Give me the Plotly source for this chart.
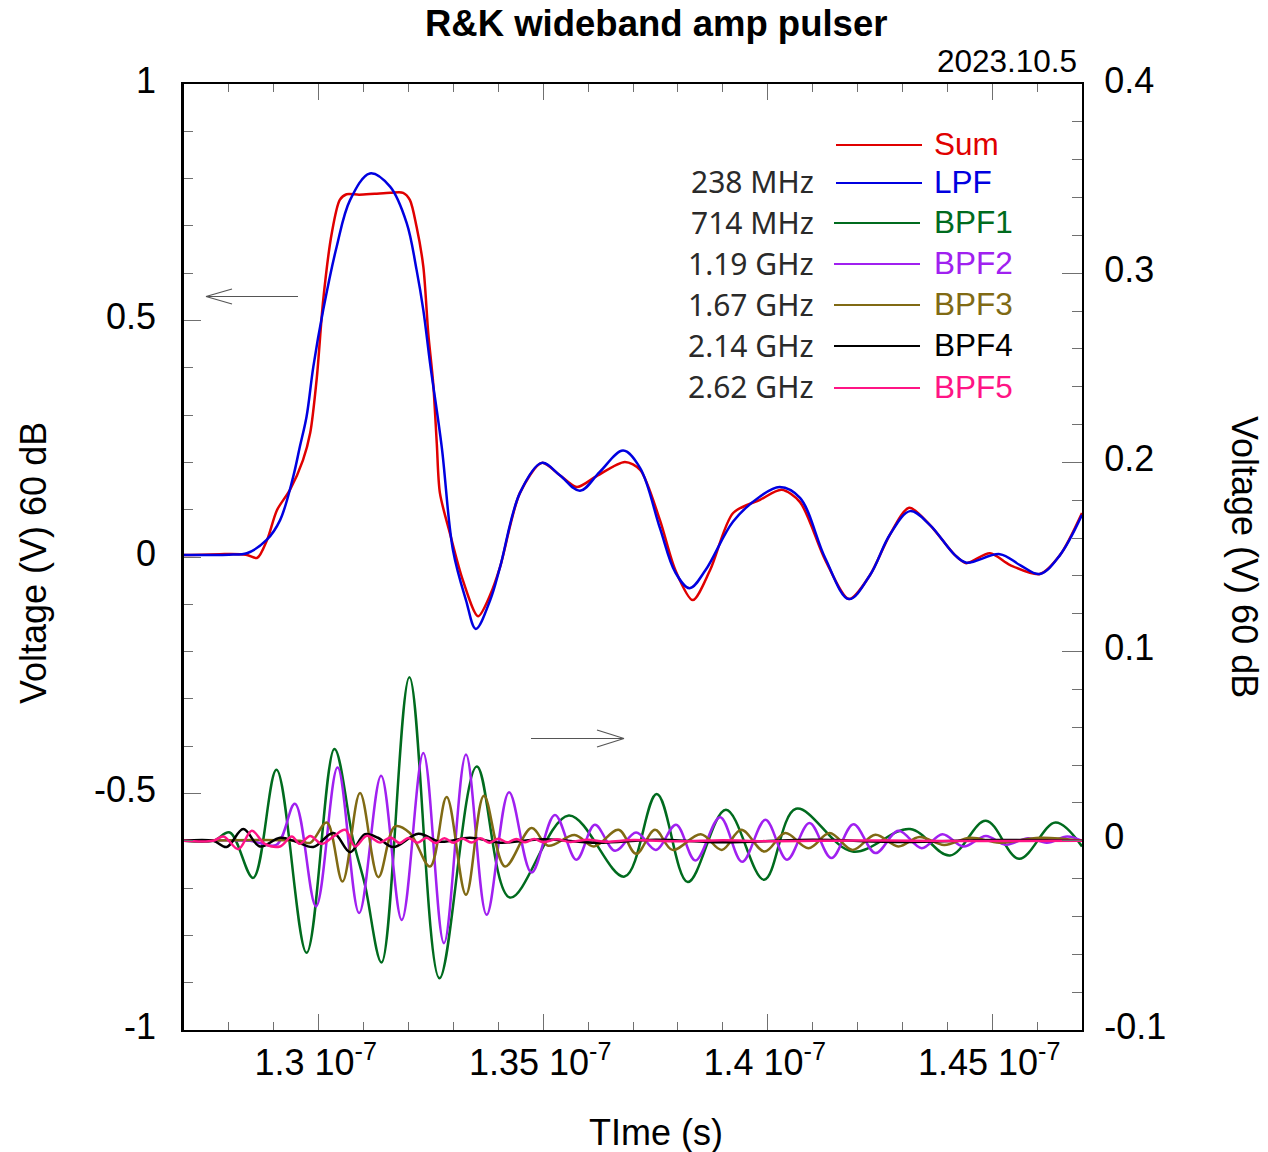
import plotly.graph_objects as go

# ---------------- data (time in ns, converted to seconds for the axis) -------------
sum_t = [127.0, 127.8, 128.38, 128.63, 128.85, 129.07, 129.36, 129.65, 129.81, 129.96,
         130.10, 130.29, 130.47, 130.62, 130.90, 131.25, 131.60, 131.88, 132.03, 132.18,
         132.33, 132.44, 132.55, 132.63, 132.70, 132.92, 133.21, 133.55, 133.82, 134.04,
         134.48, 134.97, 135.37, 135.75, 136.19, 136.82, 137.16, 137.60, 137.94, 138.33,
         138.72, 139.23, 139.83, 140.31, 140.72, 141.28, 141.81, 142.28, 142.72, 143.15,
         143.61, 144.17, 144.42, 144.95, 145.40, 146.06, 146.51, 147.0]
sum_v = [0.004, 0.006, 0.005, -0.002, 0.036, 0.099, 0.142, 0.205, 0.262, 0.381,
         0.543, 0.684, 0.755, 0.767, 0.766, 0.768, 0.770, 0.770, 0.755, 0.698,
         0.614, 0.473, 0.367, 0.240, 0.135, 0.051, -0.049, -0.125, -0.080, -0.021,
         0.135, 0.199, 0.173, 0.148, 0.171, 0.201, 0.184, 0.078, -0.027, -0.091,
         -0.027, 0.093, 0.121, 0.142, 0.116, -0.006, -0.089, -0.038, 0.047, 0.104,
         0.068, 0.004, -0.013, 0.008, -0.017, -0.036, 0.004, 0.093]

lpf_t = [127.0, 128.0, 128.40, 128.84, 129.14, 129.43, 129.58, 129.73, 129.88, 130.10,
         130.40, 130.70, 131.14, 131.59, 131.96, 132.18, 132.33, 132.48, 132.74, 132.99,
         133.28, 133.50, 133.82, 134.04, 134.48, 134.97, 135.37, 135.82, 136.26, 136.78,
         137.16, 137.60, 137.94, 138.26, 138.62, 139.23, 139.83, 140.27, 140.72, 141.28,
         141.81, 142.28, 142.72, 143.17, 143.61, 144.17, 144.43, 145.17, 145.62, 146.06,
         146.51, 147.0]
lpf_v = [0.004, 0.005, 0.008, 0.036, 0.078, 0.169, 0.233, 0.297, 0.402, 0.522,
         0.656, 0.755, 0.811, 0.783, 0.706, 0.607, 0.522, 0.410, 0.233, 0.015,
         -0.091, -0.152, -0.091, -0.021, 0.135, 0.199, 0.173, 0.140, 0.180, 0.225,
         0.188, 0.061, -0.032, -0.066, -0.027, 0.075, 0.128, 0.148, 0.125, -0.002,
         -0.089, -0.038, 0.047, 0.097, 0.068, 0.004, -0.012, 0.006, -0.017, -0.036,
         0.004, 0.089]

bpf1_t = [127.0, 127.65, 128.02, 128.54, 129.06, 129.73, 130.35, 130.77, 131.03, 131.40,
          132.02, 132.69, 133.52, 134.26, 135.57, 136.81, 137.53, 138.22, 139.07, 139.92,
          140.63, 141.89, 143.17, 144.06, 144.86, 145.60, 146.41, 147.0]
bpf1_v = [0.0, 0.0, 0.0044, -0.0196, 0.0375, -0.0592, 0.0485, 0.0, -0.0233, -0.0643,
          0.0865, -0.0726, 0.0393, -0.0300, 0.0134, -0.0189, 0.0247, -0.0218, 0.0164, -0.0206,
          0.0169, -0.0057, 0.0062, -0.0078, 0.0106, -0.0095, 0.0097, -0.003]

bpf2_t = [127.0, 128.47, 129.06, 129.47, 129.94, 130.42, 130.90, 131.39, 131.85, 132.33,
          132.79, 133.28, 133.74, 134.24, 134.74, 135.26, 135.74, 136.15, 136.60, 137.07,
          137.51, 137.96, 138.39, 138.94, 139.43, 139.95, 140.43, 140.93, 141.42, 141.91,
          142.40, 142.91, 143.43, 143.89, 144.36, 144.86, 145.30, 145.80, 146.22, 146.67,
          147.0]
bpf2_v = [0.0, 0.0, -0.0021, 0.0196, -0.0347, 0.0387, -0.0382, 0.0344, -0.0418, 0.0464,
          -0.0541, 0.0456, -0.0391, 0.0257, -0.0168, 0.0137, -0.0100, 0.0085, -0.0053, 0.0044,
          -0.0048, 0.0085, -0.0104, 0.0125, -0.0111, 0.0111, -0.0100, 0.0094, -0.0091, 0.0088,
          -0.0065, 0.0053, -0.0039, 0.0035, -0.0030, 0.0026, -0.0021, 0.0014, -0.0010, 0.0023,
          0.0]

bpf3_t = [127.0, 129.58, 129.81, 130.18, 130.53, 130.92, 131.33, 131.70, 132.03, 132.48,
          132.85, 133.28, 133.68, 134.15, 134.74, 135.11, 135.70, 136.13, 136.68, 137.07,
          137.49, 137.88, 138.51, 138.98, 139.41, 139.93, 140.39, 140.91, 141.38, 141.89,
          142.40, 142.91, 143.38, 143.93, 144.51, 145.17, 146.06, 147.0]
bpf3_v = [0.0, 0.0, -0.0011, 0.0097, -0.0215, 0.0252, -0.0192, 0.0076, 0.0041, -0.0136,
          0.0231, -0.0285, 0.0238, -0.0136, 0.0067, -0.0026, 0.0031, -0.0030, 0.0058, -0.0069,
          0.0058, -0.0048, 0.0035, -0.0048, 0.0058, -0.0057, 0.0041, -0.0039, 0.0041, -0.0048,
          0.0032, -0.0030, 0.0020, -0.0022, 0.0016, -0.0010, 0.0016, 0.0]

bpf4_t = [127.0, 127.65, 127.95, 128.32, 128.69, 129.14, 129.50, 129.88, 130.33, 130.70,
          131.03, 131.32, 131.66, 132.22, 132.70, 133.37, 134.04, 135.0, 136.2, 137.5,
          139.0, 141.0, 143.0, 145.0, 147.0]
bpf4_v = [0.0, 0.0, -0.0033, 0.0062, -0.0030, 0.0016, -0.0005, -0.0033, 0.0041, -0.0060,
          0.0035, 0.0016, -0.0033, 0.0037, -0.0005, 0.0016, -0.0010, 0.0008, -0.0010, 0.0006,
          -0.0008, 0.0005, -0.0006, 0.0004, 0.0]

bpf5_t = [127.0, 127.65, 127.88, 128.21, 128.51, 128.80, 129.14, 129.40, 129.58, 129.81,
          130.07, 130.33, 130.59, 130.81, 131.07, 131.37, 131.60, 131.80, 132.00, 132.20,
          132.40, 132.60, 132.80, 133.00, 133.20, 133.40, 133.60, 133.80, 134.00, 134.20,
          134.40, 134.60, 134.80, 135.00, 135.30, 135.60, 136.00, 136.40, 137.00, 138.00,
          139.00, 140.00, 142.00, 144.00, 147.00]
bpf5_v = [0.0, 0.0, 0.0023, -0.0044, 0.0053, -0.0016, -0.0030, 0.0023, -0.0016, 0.0026,
          -0.0016, 0.0023, 0.0058, -0.0030, 0.0026, -0.0009, 0.0018, -0.0012, 0.0015, -0.0010,
          0.0016, -0.0012, 0.0014, -0.0010, 0.0012, -0.0009, 0.0013, -0.0010, 0.0011, -0.0008,
          0.0010, -0.0008, 0.0009, -0.0007, 0.0008, -0.0006, 0.0006, -0.0005, 0.0004, -0.0003,
          0.0003, -0.0002, 0.0002, -0.0001, 0.0]

names = ["Sum", "LPF", "BPF1", "BPF2", "BPF3", "BPF4", "BPF5"]
freqs = ["", "238 MHz", "714 MHz", "1.19 GHz", "1.67 GHz", "2.14 GHz", "2.62 GHz"]
colors = ["#e00000", "#0000e0", "#006b1e", "#a020f0", "#806a14", "#000000", "#ff1485"]

x_ticks = [1.30e-7, 1.35e-7, 1.40e-7, 1.45e-7]
x_ticktext = ["1.3 10<sup>-7</sup>", "1.35 10<sup>-7</sup>", "1.4 10<sup>-7</sup>", "1.45 10<sup>-7</sup>"]
yl_ticks = [-1, -0.5, 0, 0.5, 1]
yl_ticktext = ["-1", "-0.5", "0", "0.5", "1"]
yr_ticks = [-0.1, 0, 0.1, 0.2, 0.3, 0.4]
yr_ticktext = ["-0.1", "0", "0.1", "0.2", "0.3", "0.4"]

# ---------------- figure -------------
W, H = 1268, 1152
L, R, T, B = 184, 1082, 84, 1030

def px(xp):
    return (xp - L) / (R - L)

def py(yp):
    return (B - yp) / (B - T)

FONT = "Liberation Sans, Arial, Helvetica, sans-serif"
TICKC = "#707070"
TICKFS = 36

fig = go.Figure()

series_right = [(bpf1_t, bpf1_v, 2), (bpf2_t, bpf2_v, 3), (bpf3_t, bpf3_v, 4),
                (bpf4_t, bpf4_v, 5), (bpf5_t, bpf5_v, 6)]
for t, v, i in series_right:
    fig.add_trace(go.Scatter(x=[a * 1e-9 for a in t], y=v, mode="lines", name=names[i],
                             line=dict(color=colors[i], width=2.5, shape="spline", smoothing=1.0),
                             yaxis="y2"))

fig.add_trace(go.Scatter(x=[a * 1e-9 for a in sum_t], y=sum_v, mode="lines", name=names[0],
                         line=dict(color=colors[0], width=2.5, shape="spline", smoothing=0.8),
                         yaxis="y"))
fig.add_trace(go.Scatter(x=[a * 1e-9 for a in lpf_t], y=lpf_v, mode="lines", name=names[1],
                         line=dict(color=colors[1], width=2.5, shape="spline", smoothing=1.0),
                         yaxis="y"))

x_minor = [(127 + k) * 1e-9 for k in range(21) if (127 + k) % 5 != 0]
yl_minor = [round(-1 + 0.1 * k, 2) for k in range(21) if k % 5 != 0]
yr_minor = [round(-0.1 + 0.02 * k, 3) for k in range(26) if k % 5 != 0]

fig.update_layout(
    template="none",
    width=W, height=H,
    margin=dict(l=L, r=W - R, t=T, b=H - B, pad=0),
    paper_bgcolor="white", plot_bgcolor="white",
    showlegend=False,
    font=dict(family=FONT, color="black"),
    xaxis=dict(
        range=[1.27e-7, 1.47e-7], showgrid=False, zeroline=False,
        showline=True, linecolor="black", linewidth=2, mirror="ticks",
        ticks="inside", ticklen=16, tickwidth=1, tickcolor=TICKC,
        tickmode="array", tickvals=x_ticks, ticktext=x_ticktext,
        tickfont=dict(size=TICKFS, family=FONT, color="black"),
        minor=dict(ticks="inside", ticklen=8, tickwidth=1, tickcolor=TICKC,
                   tickmode="array", tickvals=x_minor, showgrid=False),
        automargin=False, ticklabelstandoff=0, ticklabelshift=-3,
    ),
    yaxis=dict(
        range=[-1, 1], showgrid=False, zeroline=False,
        showline=True, linecolor="black", linewidth=2.5,
        ticks="inside", ticklen=17, tickwidth=1, tickcolor=TICKC,
        tickmode="array", tickvals=yl_ticks, ticktext=yl_ticktext,
        tickfont=dict(size=TICKFS, family=FONT, color="black"),
        minor=dict(ticks="inside", ticklen=9, tickwidth=1, tickcolor=TICKC,
                   tickmode="array", tickvals=yl_minor, showgrid=False),
        automargin=False, ticklabelstandoff=18, ticklabelshift=-4,
    ),
    yaxis2=dict(
        range=[-0.1, 0.4], overlaying="y", side="right", anchor="x",
        showgrid=False, zeroline=False,
        showline=True, linecolor="black", linewidth=2,
        ticks="inside", ticklen=20, tickwidth=1, tickcolor=TICKC,
        tickmode="array", tickvals=yr_ticks, ticktext=yr_ticktext,
        tickfont=dict(size=TICKFS, family=FONT, color="black"),
        minor=dict(ticks="inside", ticklen=10, tickwidth=1, tickcolor=TICKC,
                   tickmode="array", tickvals=yr_minor, showgrid=False),
        automargin=False, ticklabelstandoff=13, ticklabelshift=-4,
    ),
)

ann = []
# title and date
ann.append(dict(text="<b>R&amp;K wideband amp pulser</b>", x=px(656), y=py(24), xref="paper", yref="paper",
                xanchor="center", yanchor="middle", showarrow=False, font=dict(size=36.5, family=FONT)))
ann.append(dict(text="2023.10.5", x=px(1079), y=py(61), xref="paper", yref="paper",
                xanchor="right", yanchor="middle", showarrow=False, font=dict(size=31.5, family=FONT)))
# axis titles
ann.append(dict(text="TIme (s)", x=px(656), y=py(1132), xref="paper", yref="paper",
                xanchor="center", yanchor="middle", showarrow=False, font=dict(size=36, family=FONT)))
ann.append(dict(text="Voltage (V) 60 dB", x=px(33), y=py(563), xref="paper", yref="paper",
                xanchor="center", yanchor="middle", showarrow=False, textangle=-90,
                font=dict(size=36, family=FONT)))
ann.append(dict(text="Voltage (V) 60 dB", x=px(1245), y=py(557), xref="paper", yref="paper",
                xanchor="center", yanchor="middle", showarrow=False, textangle=90,
                font=dict(size=36, family=FONT)))

# custom legend
leg_y = [145, 183, 223, 264, 305, 346, 388]
leg_x0 = [836, 836, 834, 834, 834, 834, 834]
shapes = []
for i in range(7):
    shapes.append(dict(type="line", xref="paper", yref="paper",
                       x0=px(leg_x0[i]), x1=px(leg_x0[i] + 86), y0=py(leg_y[i]), y1=py(leg_y[i]),
                       line=dict(color=colors[i], width=2)))
    ann.append(dict(text=names[i], x=px(932), y=py(leg_y[i] - 1), xref="paper", yref="paper",
                    xanchor="left", yanchor="middle", showarrow=False,
                    font=dict(size=31.5, family=FONT, color=colors[i])))
    if freqs[i]:
        ann.append(dict(text=freqs[i], x=px(816), y=py(leg_y[i] - 1), xref="paper", yref="paper",
                        xanchor="right", yanchor="middle", showarrow=False,
                        font=dict(size=30, family="Noto Sans, Open Sans, sans-serif", color="#2a2a2a")))

# axis pointer arrows
ARC = "#555555"
for (x0, y0, x1, y1) in [(298, 296.5, 206, 296.5), (206, 296.5, 232, 289), (206, 296.5, 232, 304),
                         (531, 738.5, 624, 738.5), (624, 738.5, 597, 730), (624, 738.5, 597, 747)]:
    shapes.append(dict(type="line", xref="paper", yref="paper",
                       x0=px(x0), y0=py(y0), x1=px(x1), y1=py(y1),
                       line=dict(color=ARC, width=1.2)))

fig.update_layout(annotations=ann, shapes=shapes)
fig.write_html("out.html")
